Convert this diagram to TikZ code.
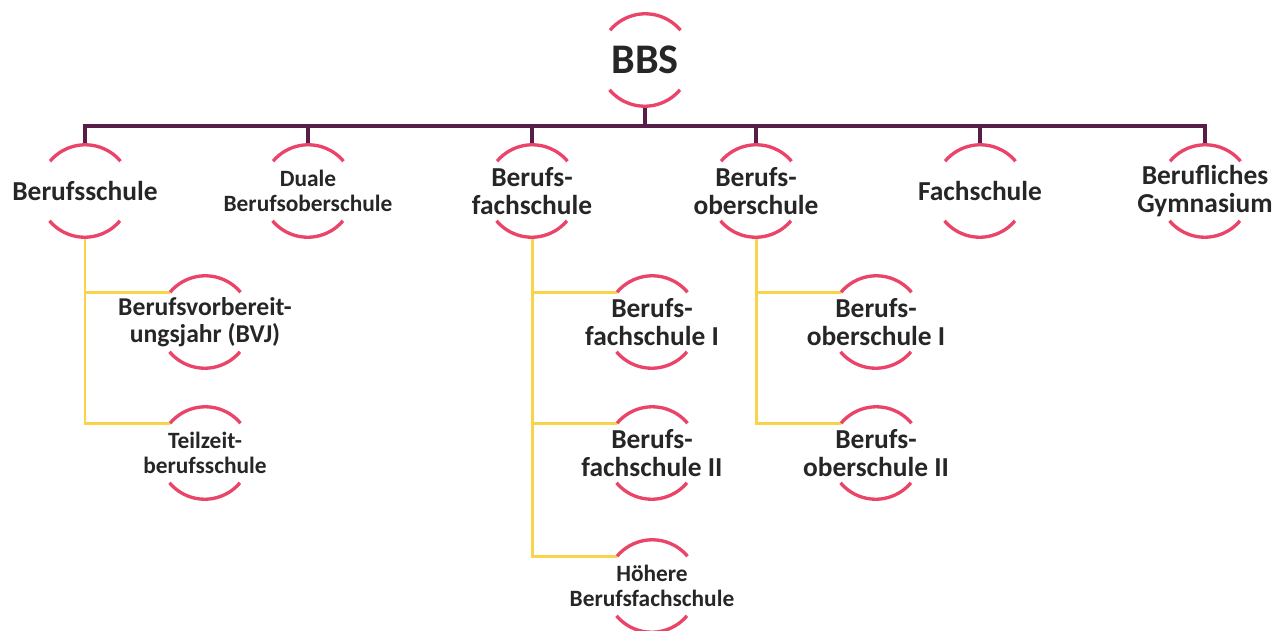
\documentclass[tikz,border=0pt]{standalone}
\usepackage{fontspec}
\setmainfont{Carlito}

\definecolor{ringred}{RGB}{234,68,104}
\definecolor{stempurple}{RGB}{86,30,72}
\definecolor{branchyellow}{RGB}{250,212,72}
\definecolor{textgray}{RGB}{38,38,38}

\begin{document}
\begin{tikzpicture}[x=0.02cm, y=-0.02cm,
    bubble/.style={circle, minimum size=1.84cm, inner sep=0pt},
    txt/.style={font=\bfseries\fontsize{15.6}{16.2}\selectfont, text=textgray, align=center, inner sep=0pt},
    midtxt/.style={txt, font=\bfseries\fontsize{14.6}{15.4}\selectfont},
    smalltxt/.style={txt, font=\bfseries\fontsize{13.3}{14.4}\selectfont},
    bigtxt/.style={txt, font=\bfseries\fontsize{24}{28}\selectfont},
    ring/.style={draw=ringred, line width=1.9pt},
    stem/.style={draw=stempurple, line width=1.9pt},
    branch/.style={draw=branchyellow, line width=1.7pt}]
    \useasboundingbox (0,0) rectangle (1274,630);

    % top
    \node[bubble, label={[bigtxt]center:BBS}] (bbs) at (645,60) {};
    % first level
    \node[bubble, label={[txt]center:Berufsschule}] (bs) at (85,191) {};
    \node[bubble, label={[smalltxt]center:Duale\\Berufsoberschule}] (dbos) at (308,191) {};
    \node[bubble, label={[txt]center:Berufs-\\fachschule}] (bfs) at (532,191) {};
    \node[bubble, label={[txt]center:Berufs-\\oberschule}] (bos) at (756,191) {};
    \node[bubble, label={[txt]center:Fachschule}] (fs) at (980,191) {};
    \node[bubble, label={[txt]center:Berufliches\\Gymnasium}] (bg) at (1205,191) {};
    % second level
    \node[bubble, label={[midtxt]center:Berufsvorbereit-\\ungsjahr (BVJ)}] (bvj) at (205,322) {};
    \node[bubble, label={[smalltxt]center:Teilzeit-\\berufsschule}] (tbs) at (205,453) {};
    \node[bubble, label={[txt]center:Berufs-\\fachschule I}] (bfs1) at (652,322) {};
    \node[bubble, label={[txt]center:Berufs-\\fachschule II}] (bfs2) at (652,453) {};
    \node[bubble, label={[smalltxt]center:Höhere\\Berufsfachschule}] (hbfs) at (652,586) {};
    \node[bubble, label={[txt]center:Berufs-\\oberschule I}] (bos1) at (876,322) {};
    \node[bubble, label={[txt]center:Berufs-\\oberschule II}] (bos2) at (876,453) {};

    \coordinate (bar) at (645,126);
    \foreach \n in {bs,dbos,bfs,bos,fs,bg}
        \draw[stem] (bbs.south) -- (bbs.south |- bar) -| (\n.north);
    \foreach \p/\c in {bs/bvj,bs/tbs,bfs/bfs1,bfs/bfs2,bfs/hbfs,bos/bos1,bos/bos2}
        \draw[branch] (\p.south) |- (\c.140);

    % rings
    \foreach \n in {bbs,bs,dbos,bfs,bos,fs,bg,bvj,tbs,bfs1,bfs2,hbfs,bos1,bos2}
        \draw[ring] (\n.40) arc[start angle=40, end angle=140, radius=0.92cm]
                    (\n.220) arc[start angle=220, end angle=320, radius=0.92cm];
\end{tikzpicture}
\end{document}
